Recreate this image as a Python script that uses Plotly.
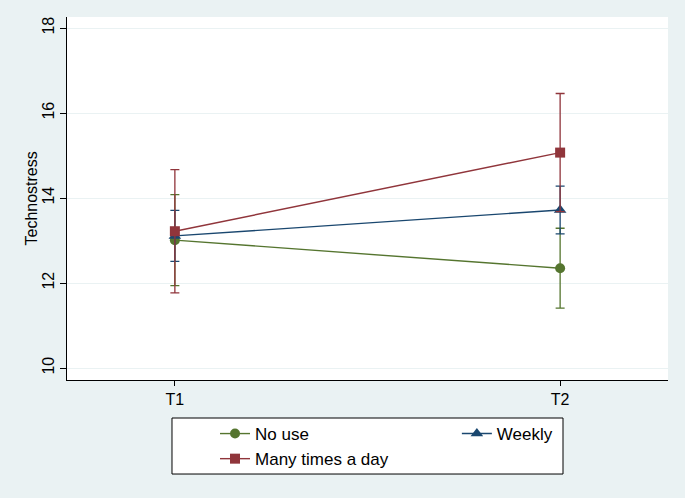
import plotly.graph_objects as go

times = ["T1", "T2"]
x_pos = [1, 2]
series_names = ["No use", "Weekly", "Many times a day"]
no_use = [13.01, 12.35]
no_use_err = [1.07, 0.94]
weekly = [13.11, 13.72]
weekly_err = [0.60, 0.56]
many = [13.22, 15.07]
many_err = [1.45, 1.39]
y_ticks = [10, 12, 14, 16, 18]

colors = ["#55752F", "#1A476F", "#90353B"]
symbols = ["circle", "triangle-up", "square"]
sizes = [10, 11, 10]
legend_ids = ["legend", "legend2", "legend"]
values = [no_use, weekly, many]
errs = [no_use_err, weekly_err, many_err]

fig = go.Figure()
for name, v, e, c, s, sz, lg in zip(series_names, values, errs, colors, symbols, sizes, legend_ids):
    fig.add_trace(go.Scatter(
        x=x_pos, y=v, name=name, mode="lines+markers", legend=lg,
        line=dict(color=c, width=1.4),
        marker=dict(color=c, symbol=s, size=sz),
        error_y=dict(type="data", array=e, visible=True, color=c, thickness=1.3, width=4.5),
    ))

legend_style = dict(
    orientation="v", xanchor="left", yanchor="top", y=-0.0992,
    bgcolor="rgba(0,0,0,0)", borderwidth=0,
    font=dict(size=17), traceorder="normal",
)

fig.update_layout(
    width=685, height=498,
    paper_bgcolor="#EAF2F3", plot_bgcolor="white",
    margin=dict(l=67, r=17, t=17, b=118),
    font=dict(family="Liberation Sans, Arial, sans-serif", size=16, color="black"),
    showlegend=True,
    legend=dict(x=0.2463, **legend_style),
    legend2=dict(x=0.6487, **legend_style),
    shapes=[dict(
        type="rect", xref="paper", yref="paper",
        x0=0.1747, x1=0.8253, y0=-0.259, y1=-0.1047,
        fillcolor="white", line=dict(color="black", width=1), layer="above",
    )],
    annotations=[dict(
        text="Technostress", xref="paper", yref="paper",
        x=-0.0599, y=0.5, xanchor="center", yanchor="middle",
        textangle=-90, showarrow=False, font=dict(size=16),
    )],
)
fig.update_xaxes(
    range=[0.72, 2.28], tickvals=x_pos, ticktext=times, automargin=False,
    showgrid=False, zeroline=False, showline=True, linecolor="black", linewidth=1,
    ticks="outside", ticklen=5, tickcolor="black",
)
fig.update_yaxes(
    range=[9.72, 18.26], tickvals=y_ticks, tickangle=-90, automargin=False,
    showgrid=True, gridcolor="#EAF2F3", gridwidth=1, zeroline=False,
    showline=True, linecolor="black", linewidth=1,
    ticks="outside", ticklen=6, tickcolor="black",
)

fig.write_html(
    "out.html",
    config={"displayModeBar": False},
    post_script="document.body.style.margin='0';document.body.style.padding='0';",
)
